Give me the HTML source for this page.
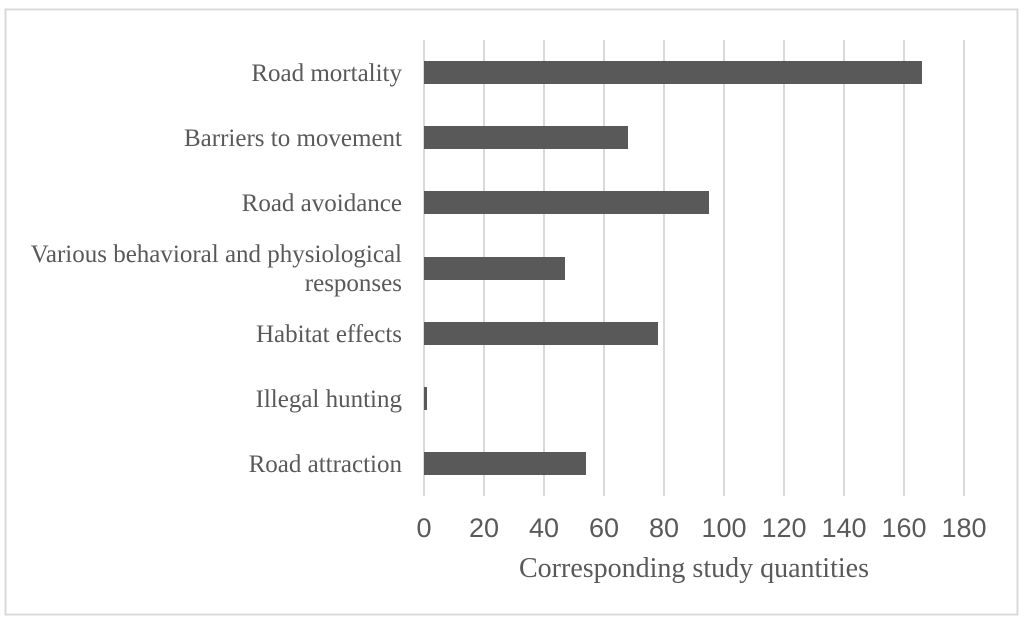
<!DOCTYPE html>
<html><head><style>body{margin:0;background:#fff}</style></head><body>
<svg width="1024" height="621" xmlns="http://www.w3.org/2000/svg">
<rect x="5.5" y="9.5" width="1012" height="605" fill="#fff" stroke="#d9d9d9" stroke-width="2"/>
<g stroke="#d9d9d9" stroke-width="2">
<line x1="424" y1="40" x2="424" y2="496"/><line x1="484" y1="40" x2="484" y2="496"/><line x1="544" y1="40" x2="544" y2="496"/><line x1="604" y1="40" x2="604" y2="496"/><line x1="664" y1="40" x2="664" y2="496"/><line x1="724" y1="40" x2="724" y2="496"/><line x1="784" y1="40" x2="784" y2="496"/><line x1="844" y1="40" x2="844" y2="496"/><line x1="904" y1="40" x2="904" y2="496"/><line x1="964" y1="40" x2="964" y2="496"/>
</g>
<g fill="#595959">
<rect x="424" y="61" width="498" height="23"/>
<rect x="424" y="126" width="204" height="23"/>
<rect x="424" y="191" width="285" height="23"/>
<rect x="424" y="257" width="141" height="23"/>
<rect x="424" y="322" width="234" height="23"/>
<rect x="424" y="387" width="3" height="23"/>
<rect x="424" y="452" width="162" height="23"/>
</g>
<g font-family="Liberation Serif, serif" font-size="25" fill="#595959" text-anchor="end">
<text x="402" y="81">Road mortality</text>
<text x="402" y="146">Barriers to movement</text>
<text x="402" y="211">Road avoidance</text>
<text x="402" y="262">Various behavioral and physiological</text>
<text x="402" y="291">responses</text>
<text x="402" y="342">Habitat effects</text>
<text x="402" y="407">Illegal hunting</text>
<text x="402" y="472">Road attraction</text>
</g>
<g font-family="Liberation Sans, sans-serif" font-size="27" fill="#595959" text-anchor="middle">
<text x="424" y="537">0</text><text x="484" y="537">20</text><text x="544" y="537">40</text><text x="604" y="537">60</text><text x="664" y="537">80</text><text x="724" y="537">100</text><text x="784" y="537">120</text><text x="844" y="537">140</text><text x="904" y="537">160</text><text x="964" y="537">180</text>
</g>
<text x="694" y="577" font-family="Liberation Serif, serif" font-size="28" fill="#595959" text-anchor="middle">Corresponding study quantities</text>
</svg>
</body></html>
